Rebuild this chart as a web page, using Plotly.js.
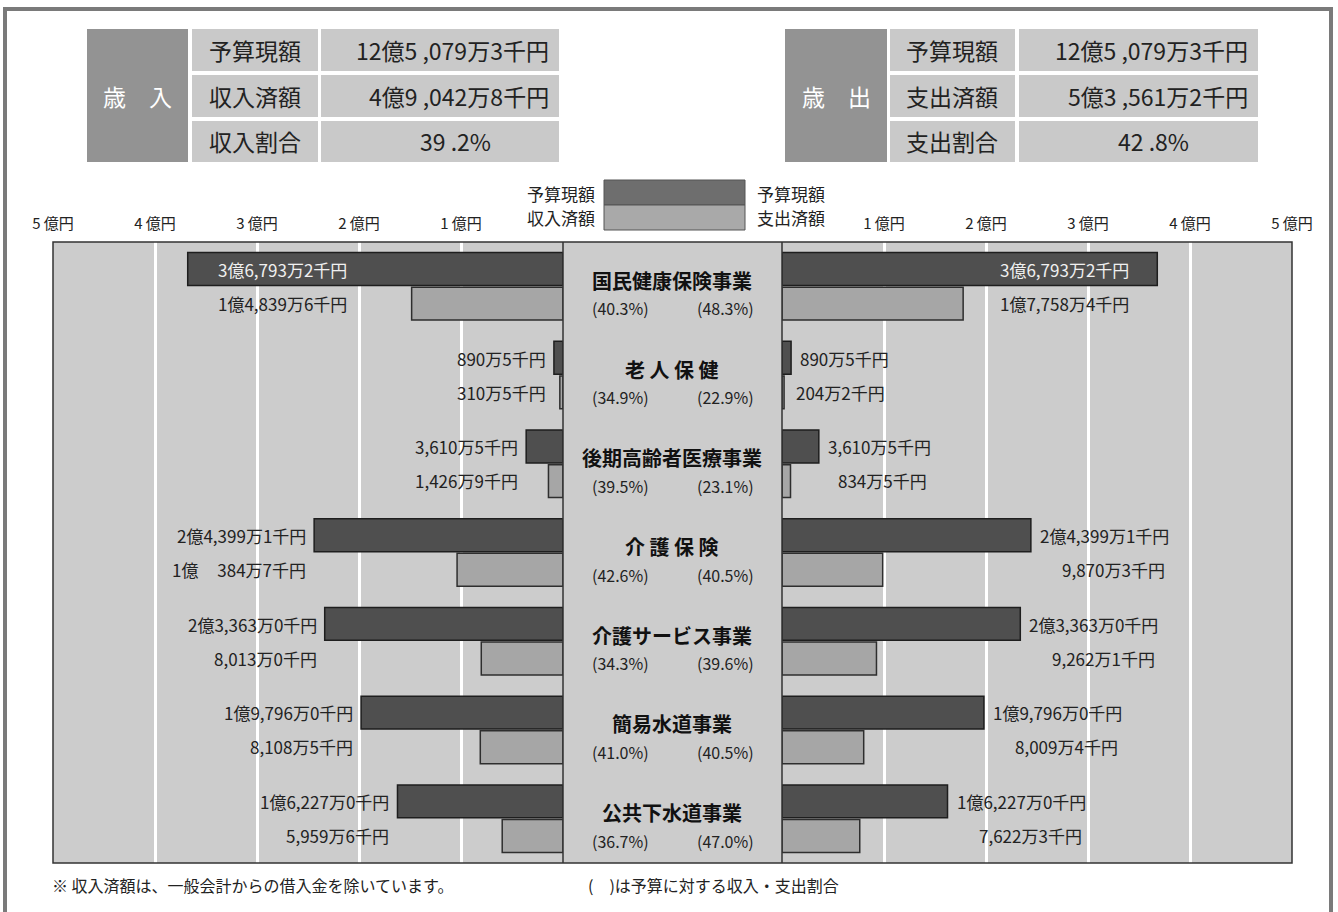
<!DOCTYPE html>
<html>
<head>
<meta charset="utf-8">
<script src="https://cdn.plot.ly/plotly-3.0.1.min.js"></script>
<style>
html,body{margin:0;padding:0;background:#fff;}
#chart{width:1338px;height:912px;}
</style>
</head>
<body>
<div id="chart"></div>
<script>
// ---------- data (amounts in 万円) ----------
const categories = ['国民健康保険事業','老 人 保 健','後期高齢者医療事業','介 護 保 険','介護サービス事業','簡易水道事業','公共下水道事業'];
const revenueBudget = [36793.2, 890.5, 3610.5, 24399.1, 23363.0, 19796.0, 16227.0];
const revenueReceived = [14839.6, 310.5, 1426.9, 10384.7, 8013.0, 8108.5, 5959.6];
const expenditureBudget = [36793.2, 890.5, 3610.5, 24399.1, 23363.0, 19796.0, 16227.0];
const expenditureSpent = [17758.4, 204.2, 834.5, 9870.3, 9262.1, 8009.4, 7622.3];
const revenueRate = [40.3, 34.9, 39.5, 42.6, 34.3, 41.0, 36.7];
const expenditureRate = [48.3, 22.9, 23.1, 40.5, 39.6, 40.5, 47.0];
const tickValues = [10000, 20000, 30000, 40000, 50000];
const tickLabels = ['1 億円', '2 億円', '3 億円', '4 億円', '5 億円'];
const revenueSummaryLabels = ['予算現額', '収入済額', '収入割合'];
const revenueSummaryValues = ['12億5 ,079万3千円', '4億9 ,042万8千円', '39 .2%'];
const expenditureSummaryLabels = ['予算現額', '支出済額', '支出割合'];
const expenditureSummaryValues = ['12億5 ,079万3千円', '5億3 ,561万2千円', '42 .8%'];
const legendLeft = ['予算現額', '収入済額'];
const legendRight = ['予算現額', '支出済額'];
const footnoteLeft = '※ 収入済額は、一般会計からの借入金を除いています。';
const footnoteRight = '(　)は予算に対する収入・支出割合';

// ---------- helpers ----------
const W = 1338, H = 912;
const X = px => px / W;
const Y = py => 1 - py / H;
const FONT = '"Noto Sans CJK JP", "Noto Sans", sans-serif';
const DARK = '#222222';

function fmtAmount(v) {
  const t = Math.round(v * 10);           // 千円
  const oku = Math.floor(t / 100000);
  const man = Math.floor((t % 100000) / 10);
  const sen = t % 10;
  let manStr = man.toLocaleString('en-US');
  if (oku > 0) {
    if (man < 1000) manStr = '\u2007\u2007' + manStr;
    return oku + '億' + manStr + '万' + sen + '千円';
  }
  return manStr + '万' + sen + '千円';
}
const LABEL_SIZE = 17;
const cv = document.createElement('canvas').getContext('2d');
cv.font = LABEL_SIZE + 'px ' + FONT;
const textW = s => cv.measureText(s).width;

// ---------- traces ----------
const barCommon = {type: 'bar', orientation: 'h', y: categories, hoverinfo: 'skip'};
const budgetStyle = {color: '#4f4f4f', line: {color: '#1e1e1e', width: 1.5}};
const doneStyle = {color: '#a6a6a6', line: {color: '#2e2e2e', width: 1.5}};
const traces = [
  Object.assign({}, barCommon, {name: '予算現額', x: revenueBudget, xaxis: 'x', yaxis: 'y', marker: budgetStyle}),
  Object.assign({}, barCommon, {name: '収入済額', x: revenueReceived, xaxis: 'x', yaxis: 'y', marker: doneStyle}),
  Object.assign({}, barCommon, {name: '予算現額', x: expenditureBudget, xaxis: 'x2', yaxis: 'y', marker: budgetStyle}),
  Object.assign({}, barCommon, {name: '支出済額', x: expenditureSpent, xaxis: 'x2', yaxis: 'y', marker: doneStyle})
];

// ---------- shapes ----------
const shapes = [];
const rect = (x0, y0, x1, y1, fill, line, layer) => shapes.push({
  type: 'rect', xref: 'paper', yref: 'paper', x0: X(x0), x1: X(x1), y0: Y(y1), y1: Y(y0),
  fillcolor: fill || 'rgba(0,0,0,0)', line: line || {width: 0}, layer: layer || 'below'
});
// outer frame
rect(5, 9, 1331, 960, null, {color: '#7a7a7a', width: 4});
// summary tables
const rowsY = [[29, 71], [75, 117], [121, 162]];
rect(87, 29, 188, 162, '#939393');
rect(785, 29, 887, 162, '#939393');
rowsY.forEach(r => {
  rect(192, r[0], 318, r[1], '#c9c9c9');
  rect(321, r[0], 559, r[1], '#c9c9c9');
  rect(890, r[0], 1015, r[1], '#c9c9c9');
  rect(1019, r[0], 1258, r[1], '#c9c9c9');
});
// legend boxes
rect(604, 180, 745, 205, '#6e6e6e', {color: '#555', width: 1});
rect(604, 205, 745, 230, '#a9a9a9', {color: '#555', width: 1});
// center column
rect(563, 242, 782, 863, '#cccccc');
// frame of plot region
rect(53, 242, 1292, 863, null, {color: '#333', width: 1.5}, 'above');
shapes.push({type: 'line', xref: 'paper', yref: 'paper', x0: X(563), x1: X(563), y0: Y(863), y1: Y(242), line: {color: '#333', width: 1.5}, layer: 'above'});
shapes.push({type: 'line', xref: 'paper', yref: 'paper', x0: X(782), x1: X(782), y0: Y(863), y1: Y(242), line: {color: '#333', width: 1.5}, layer: 'above'});

// ---------- annotations ----------
const ann = [];
const txt = (x, y, text, size, opts) => ann.push(Object.assign({
  xref: 'paper', yref: 'paper', x: X(x), y: Y(y), text: text, showarrow: false,
  xanchor: 'center', yanchor: 'middle', font: {family: FONT, size: size, color: DARK}
}, opts || {}));

// tables
txt(137, 96, '歳　入', 23, {font: {family: FONT, size: 23, color: '#ffffff'}});
txt(836, 96, '歳　出', 23, {font: {family: FONT, size: 23, color: '#ffffff'}});
rowsY.forEach((r, k) => {
  const cy = (r[0] + r[1]) / 2;
  txt(255, cy, revenueSummaryLabels[k], 23);
  txt(952, cy, expenditureSummaryLabels[k], 23);
  if (k < 2) {
    txt(551, cy, revenueSummaryValues[k], 23, {xanchor: 'right'});
    txt(1250, cy, expenditureSummaryValues[k], 23, {xanchor: 'right'});
  } else {
    txt(455, cy, revenueSummaryValues[k], 23);
    txt(1153, cy, expenditureSummaryValues[k], 23);
  }
});
// legend
txt(597, 193, legendLeft[0], 17, {xanchor: 'right'});
txt(597, 217, legendLeft[1], 17, {xanchor: 'right'});
txt(755, 193, legendRight[0], 17, {xanchor: 'left'});
txt(755, 217, legendRight[1], 17, {xanchor: 'left'});
// footnotes
txt(50, 885, footnoteLeft, 16, {xanchor: 'left'});
txt(586, 885, footnoteRight, 16, {xanchor: 'left'});

// center labels & bar labels
categories.forEach((c, i) => {
  ann.push({xref: 'paper', yref: 'y', x: X(672), y: i, yshift: 6, text: c, showarrow: false,
    xanchor: 'center', yanchor: 'middle', font: {family: FONT, size: 20, color: '#111', weight: 700}});
  ann.push({xref: 'paper', yref: 'y', x: X(620), y: i, yshift: -22, text: '(' + revenueRate[i].toFixed(1) + '%)', showarrow: false,
    xanchor: 'center', yanchor: 'middle', font: {family: FONT, size: 16, color: DARK}});
  ann.push({xref: 'paper', yref: 'y', x: X(725), y: i, yshift: -22, text: '(' + expenditureRate[i].toFixed(1) + '%)', showarrow: false,
    xanchor: 'center', yanchor: 'middle', font: {family: FONT, size: 16, color: DARK}});

  const lb = fmtAmount(revenueBudget[i]), lr = fmtAmount(revenueReceived[i]);
  const rb = fmtAmount(expenditureBudget[i]), rs = fmtAmount(expenditureSpent[i]);
  const inside = i === 0;
  const f = col => ({family: FONT, size: LABEL_SIZE, color: col});
  // left side (revenue)
  ann.push({xref: 'x', yref: 'y', x: revenueBudget[i], y: i, yshift: 17, text: lb, showarrow: false,
    xanchor: inside ? 'left' : 'right', xshift: inside ? 28 : -6, yanchor: 'middle', font: f(inside ? '#f0f0f0' : DARK)});
  ann.push({xref: 'x', yref: 'y', x: revenueBudget[i], y: i, yshift: -17, text: lr, showarrow: false,
    xanchor: inside ? 'left' : 'right', xshift: inside ? 28 : -6, yanchor: 'middle', font: f(DARK)});
  // right side (expenditure)
  if (inside) {
    ann.push({xref: 'x2', yref: 'y', x: expenditureBudget[i], y: i, yshift: 17, text: rb, showarrow: false,
      xanchor: 'right', xshift: -26, yanchor: 'middle', font: f('#f0f0f0')});
    ann.push({xref: 'x2', yref: 'y', x: expenditureBudget[i], y: i, yshift: -17, text: rs, showarrow: false,
      xanchor: 'right', xshift: -26, yanchor: 'middle', font: f(DARK)});
  } else {
    ann.push({xref: 'x2', yref: 'y', x: expenditureBudget[i], y: i, yshift: 17, text: rb, showarrow: false,
      xanchor: 'left', xshift: 7, yanchor: 'middle', font: f(DARK)});
    ann.push({xref: 'x2', yref: 'y', x: expenditureBudget[i], y: i, yshift: -17, text: rs, showarrow: false,
      xanchor: 'right', xshift: 7 + textW(rb), yanchor: 'middle', font: f(DARK)});
  }
});

// ---------- layout ----------
const xCommon = {
  tickvals: tickValues, ticktext: tickLabels, side: 'top', showgrid: true, gridcolor: '#ffffff', gridwidth: 3,
  zeroline: false, ticks: '', showline: false, anchor: 'y', fixedrange: true, ticklabelstandoff: 9,
  tickfont: {family: FONT, size: 15, color: DARK}
};
const layout = {
  width: W, height: H, margin: {l: 0, r: 0, t: 0, b: 0},
  paper_bgcolor: '#ffffff', plot_bgcolor: '#cccccc', showlegend: false,
  barmode: 'group', bargap: 0.22, bargroupgap: 0.05,
  xaxis: Object.assign({}, xCommon, {domain: [X(53), X(563)], range: [50000, 0]}),
  xaxis2: Object.assign({}, xCommon, {domain: [X(782), X(1292)], range: [0, 50000]}),
  yaxis: {domain: [Y(863), Y(242)], type: 'category', categoryarray: categories, range: [6.5, -0.5],
    showticklabels: false, showgrid: false, zeroline: false, fixedrange: true, anchor: 'x'},
  shapes: shapes, annotations: ann
};
Plotly.newPlot('chart', traces, layout, {staticPlot: true, displayModeBar: false});
</script>
</body>
</html>
